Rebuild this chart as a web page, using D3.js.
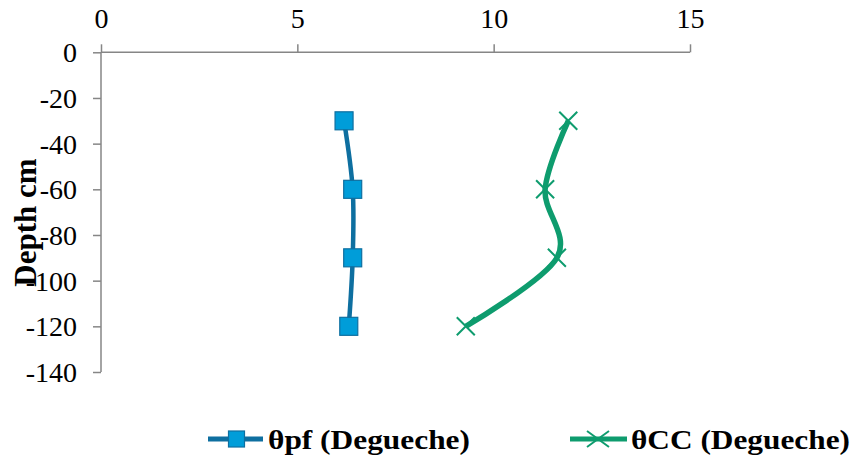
<!DOCTYPE html>
<html><head><meta charset="utf-8">
<script src="https://cdn.jsdelivr.net/npm/d3@7"></script>
<style>body{margin:0;background:#fff}svg{display:block}text{font-family:"Liberation Serif",serif}</style>
</head><body><svg id="c" width="855" height="456"></svg>
<script>
const depths = [-30, -60, -90, -120];
const pfValues = [6.19, 6.41, 6.41, 6.31];
const ccValues = [11.90, 11.31, 11.61, 9.29];
const xTicks = [0, 5, 10, 15];
const yTicks = [0, -20, -40, -60, -80, -100, -120, -140];
const seriesNames = ["θpf (Degueche)", "θCC (Degueche)"];
const yTitle = "Depth cm";

const svg = d3.select("#c");
const x = d3.scaleLinear().domain([0, 15]).range([101, 690]);
const y = d3.scaleLinear().domain([0, -140]).range([52.3, 372]);

const xa = svg.append("g").attr("transform", `translate(0,${y(0)})`)
  .call(d3.axisTop(x).tickValues(xTicks).tickFormat(d => String(d)).tickSize(8).tickPadding(16));
const ya = svg.append("g").attr("transform", `translate(${x(0)},0)`)
  .call(d3.axisLeft(y).tickValues(yTicks).tickFormat(d => String(d)).tickSize(8).tickPadding(16));
[xa, ya].forEach(a => {
  a.attr("font-family", null).attr("font-size", null);
  a.selectAll("path,line").attr("stroke", "#868686").attr("stroke-width", 1.5);
  a.selectAll("text").style("font-family", "Liberation Serif, serif").attr("font-size", 28).attr("fill", "#000");
});
xa.select(".domain").attr("d", `M${x(0)},0H${x(15)}`);
ya.select(".domain").attr("d", `M0,${y(0)}V${y(-140)}`);
ya.selectAll("text").attr("dy", "0.34em");

svg.append("text").attr("transform", `translate(36,222.5) rotate(-90)`)
  .attr("text-anchor", "middle").style("font-family", "Liberation Serif, serif").attr("font-weight", "bold")
  .attr("font-size", 31).text(yTitle);

const blueLine = "#0E6FA0", blueFill = "#009DD9", green = "#0E9C6E";
const line = d3.line().curve(d3.curveCardinal.tension(0)).x(d => x(d[0])).y(d => y(d[1]));
const pf = pfValues.map((v, i) => [v, depths[i]]);
const cc = ccValues.map((v, i) => [v, depths[i]]);

svg.append("path").attr("d", line(pf)).attr("fill", "none").attr("stroke", blueLine).attr("stroke-width", 4.5);
svg.append("path").attr("d", line(cc)).attr("fill", "none").attr("stroke", green).attr("stroke-width", 5.5);

const sq = 18;
svg.selectAll(".sq").data(pf).enter().append("rect")
  .attr("x", d => x(d[0]) - sq/2).attr("y", d => y(d[1]) - sq/2)
  .attr("width", sq).attr("height", sq).attr("fill", blueFill).attr("stroke", blueLine).attr("stroke-width", 1.2);
const xs = 9;
svg.selectAll(".xm").data(cc).enter().append("path")
  .attr("d", d => { const cx = x(d[0]), cy = y(d[1]); return `M${cx-xs},${cy-xs}L${cx+xs},${cy+xs}M${cx-xs},${cy+xs}L${cx+xs},${cy-xs}`; })
  .attr("stroke", green).attr("stroke-width", 2).attr("fill", "none");

// legend
const ly = 439, tb = 449;
const lg = svg.append("g");
lg.append("line").attr("x1", 208).attr("x2", 263).attr("y1", ly).attr("y2", ly).attr("stroke", blueLine).attr("stroke-width", 5);
lg.append("rect").attr("x", 236.5-8).attr("y", ly-8).attr("width", 16).attr("height", 16).attr("fill", blueFill).attr("stroke", blueLine).attr("stroke-width", 1.2);
lg.append("text").attr("x", 268).attr("y", tb).style("font-family", "Liberation Serif, serif").attr("font-weight", "bold")
  .attr("font-size", 28).attr("textLength", 202).attr("lengthAdjust", "spacingAndGlyphs").text(seriesNames[0]);
lg.append("line").attr("x1", 570).attr("x2", 627).attr("y1", ly).attr("y2", ly).attr("stroke", green).attr("stroke-width", 5);
lg.append("path").attr("d", `M${598-11},${ly-8}L${598+11},${ly+8}M${598-11},${ly+8}L${598+11},${ly-8}`).attr("stroke", green).attr("stroke-width", 2);
lg.append("text").attr("x", 631).attr("y", tb).style("font-family", "Liberation Serif, serif").attr("font-weight", "bold")
  .attr("font-size", 28).attr("textLength", 219).attr("lengthAdjust", "spacingAndGlyphs").text(seriesNames[1]);
</script></body></html>
